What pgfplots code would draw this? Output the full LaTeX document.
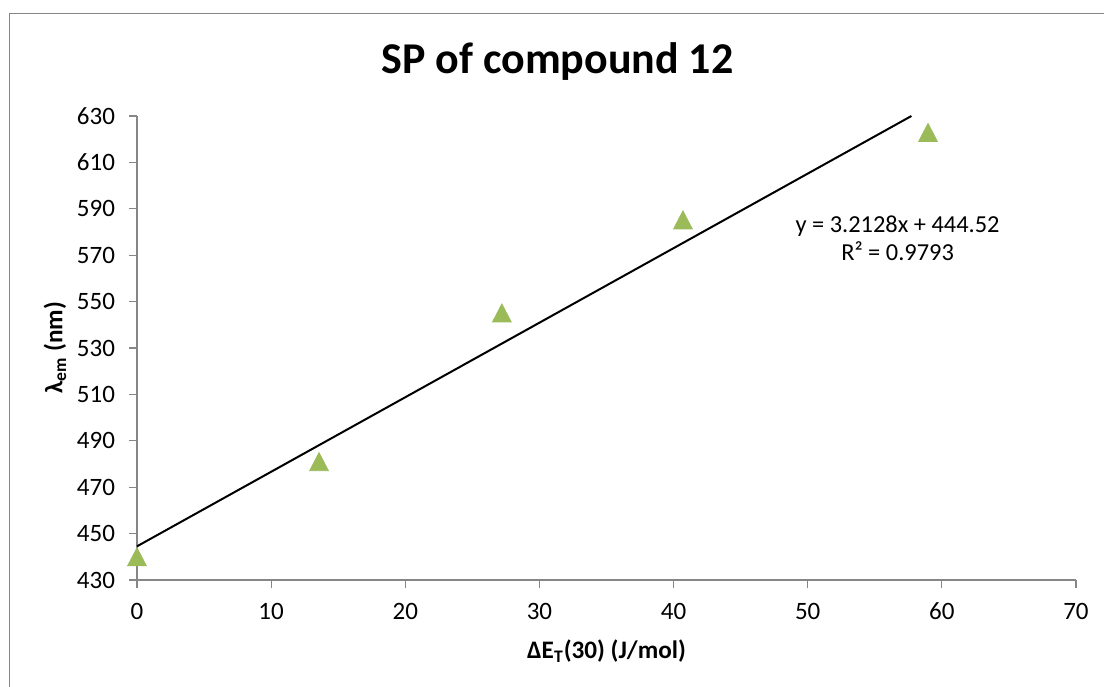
\documentclass[border=0pt]{standalone}
\usepackage{pgfplots}
\pgfplotsset{compat=1.18}
\usepackage{fontspec}
\setmainfont{Carlito}
\definecolor{axgray}{HTML}{868686}
\definecolor{mkgreen}{HTML}{9BBB59}
\begin{document}
\begin{tikzpicture}
\draw[color=axgray, line width=0.6pt] (4.7pt,-6.7pt) rectangle (620pt,-400pt);
\node[anchor=base, font=\fontsize{22}{26}\selectfont\bfseries] at (278.75pt,-36.5pt) {SP of compound 12};
\begin{axis}[
  at={(68.5pt,-290pt)}, anchor=south west,
  scale only axis, width=469.5pt, height=232pt,
  xmin=0, xmax=70, ymin=430, ymax=630,
  xtick={0,10,...,70}, ytick={430,450,...,630},
  axis lines=left,
  axis line style={-, draw=axgray, line width=0.6pt},
  tick style={draw=axgray, line width=0.6pt},
  tick align=outside,
  major tick length=4pt,
  /pgf/number format/assume math mode=true,
  ticklabel style={font=\fontsize{12.5}{15}\selectfont},
  yticklabel style={xshift=-3.5pt},
  xticklabel style={yshift=-4pt},
  xlabel={\textbf{ΔE\textsubscript{T}(30) (J/mol)}},
  ylabel={\textbf{λ\textsubscript{em} (nm)}},
  label style={font=\fontsize{12.6}{15}\selectfont},
  xlabel style={at={(axis description cs:0.5,-0.153)}, anchor=center},
  ylabel style={at={(axis description cs:-0.0873,0.5)}, anchor=center},
  clip=false,
]
\addplot[black, line width=1pt] coordinates {(0,444.52) (57.73,630)};
\addplot[only marks, mark=triangle*, mark size=6pt, mark options={fill=mkgreen, draw=mkgreen, xscale=0.9, yshift=-1.5pt}] coordinates {
(0,440) (13.57,481) (27.2,545.1) (40.7,585.2) (58.97,622.9)};
\node[anchor=base, font=\fontsize{12.2}{14}\selectfont] at (axis cs:56.7,580.0) {y = 3.2128x + 444.52};
\node[anchor=base, font=\fontsize{12.2}{14}\selectfont] at (axis cs:56.7,567.6) {R² = 0.9793};
\end{axis}
\pgfresetboundingbox
\path[use as bounding box] (0,0) rectangle (552pt,-343pt);
\end{tikzpicture}
\end{document}
